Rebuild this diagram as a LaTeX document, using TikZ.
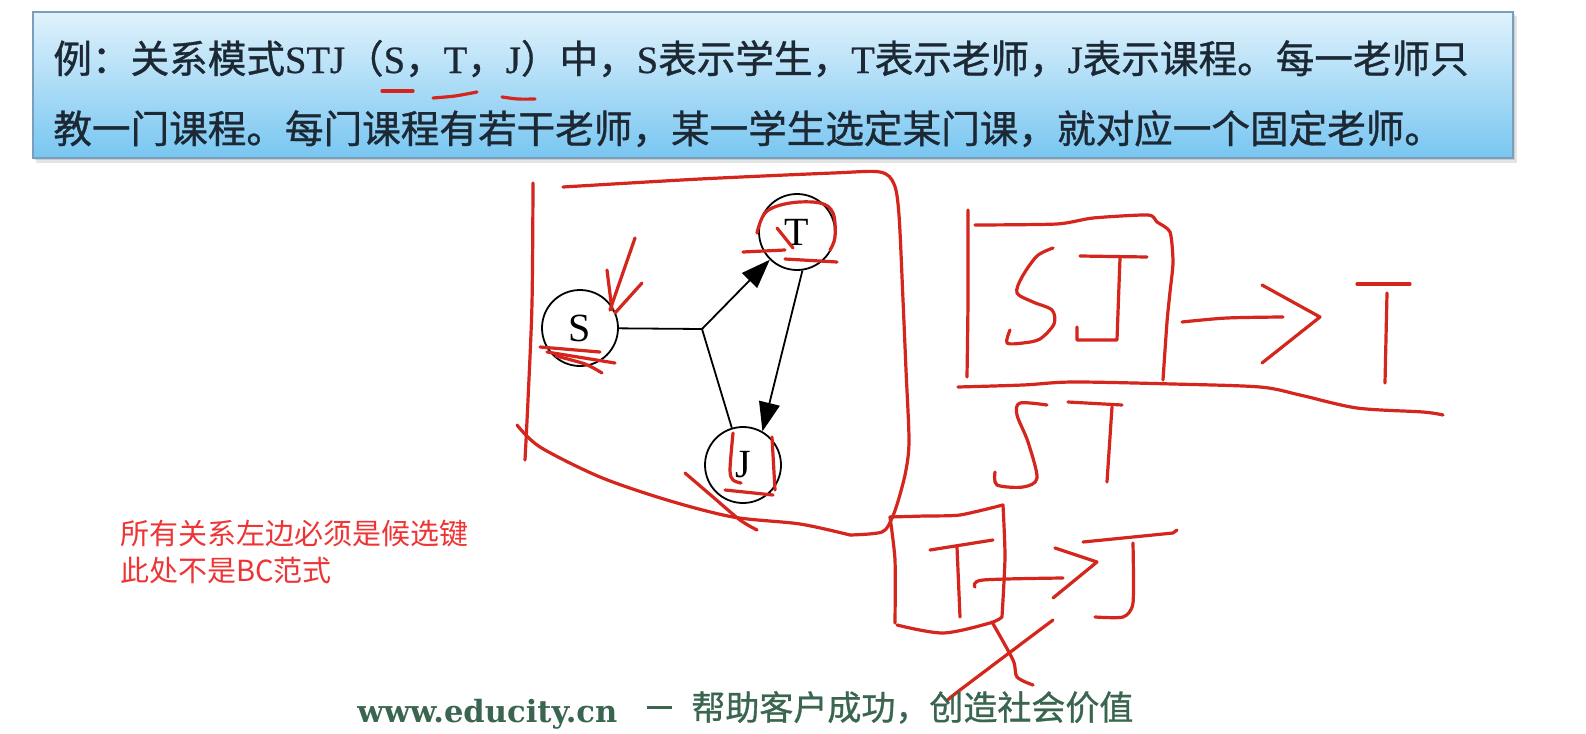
\documentclass[tikz,border=0pt]{standalone}
\usepackage{fontspec}
\setmainfont{Liberation Serif}
\newfontfamily\cjk{Noto Sans CJK SC}
\newfontfamily\cjkheavy{Noto Sans CJK SC}[FakeBold=0.9]
\newfontfamily\latheavy{Liberation Serif}[FakeBold=0.6]
\newfontfamily\urlserif{DejaVu Serif}
\usetikzlibrary{arrows.meta}

\definecolor{mkred}{RGB}{212,38,28}
\definecolor{notered}{RGB}{238,52,52}
\definecolor{boxtop}{RGB}{224,242,252}
\definecolor{boxbot}{RGB}{120,198,241}
\definecolor{boxline}{RGB}{120,160,190}
\definecolor{titlecol}{RGB}{28,40,52}
\definecolor{footgreen}{RGB}{58,102,80}

\tikzset{
  mk/.style={draw=mkred, line width=1.6pt, line cap=round, line join=round},
  vert/.style={circle, draw, line width=0.9pt, minimum size=38pt, inner sep=0pt,
               font=\fontsize{20pt}{20pt}\selectfont},
  gline/.style={line width=0.9pt},
  harrow/.style={-{Triangle[length=14.5pt,width=10.5pt]}},
  titletext/.style={anchor=base west, inner sep=0pt, text=titlecol,
                    font=\latheavy\fontsize{19.3pt}{22pt}\selectfont},
  notetext/.style={anchor=base west, inner sep=0pt, text=notered,
                   font=\cjk\fontsize{14.5pt}{17pt}\selectfont},
  foottext/.style={anchor=base west, inner sep=0pt, text=footgreen}
}

\begin{document}
\begin{tikzpicture}[x=0.5pt,y=-0.5pt]
\useasboundingbox (0,0) rectangle (1586,734);
\fill[white] (0,0) rectangle (1586,734);

% ---- blue heading panel with soft shadow
\fill[black, opacity=0.10] (36,16) rectangle (1517,163);
\fill[black, opacity=0.10] (34,14) rectangle (1515,160);
\shade[top color=boxtop, bottom color=boxbot] (33,12) rectangle (1513,158);
\draw[boxline, line width=0.6pt] (33,12) rectangle (1513,158);

\node[titletext] (line1) at (53,73)
  {{\cjkheavy 例：关系模式}STJ{\cjkheavy （}S{\cjkheavy ，}T{\cjkheavy ，}J{\cjkheavy ）中，}S{\cjkheavy 表示学生，}T{\cjkheavy 表示老师，}J{\cjkheavy 表示课程。每一老师只}};
\node[titletext] (line2) at (53,143)
  {{\cjkheavy 教一门课程。每门课程有若干老师，某一学生选定某门课，就对应一个固定老师。}};

% underlines under S, T, J in the heading
\draw[mk] (382,91) -- (413,91);
\draw[mk] plot[smooth] coordinates {(433,98) (455,96) (477,92)};
\draw[mk] plot[smooth] coordinates {(502,97) (518,99) (535,99)};

% ---- dependency graph
\node[vert] (S) at (580,328) {S};
\node[vert] (T) at (797,232) {T};
\node[vert] (J) at (743,465) {J};
\coordinate (jn) at (702,329);
\draw[gline] (S) -- (jn);
\draw[gline, harrow] (jn) -- (T);
\draw[gline] (jn) -- (J);
\draw[gline, harrow] (T.-82) -- (J.60);

% ---- hand-drawn frame around the graph
\draw[mk] plot[smooth, tension=0.5] coordinates {(533,183) (532,303) (528,400) (525,460)};
\draw[mk] plot[smooth, tension=0.5] coordinates {(563,187) (700,179) (833,173) (880,172) (894,184) (899,215) (903,300) (906,370) (909,440) (906,470) (899,498) (892,518) (882,532) (850,535)};
\draw[mk] plot[smooth, tension=0.5] coordinates {(517,425) (540,447) (600,477) (667,500) (733,517) (800,524) (850,535)};
\draw[mk] plot[smooth, tension=0.5] coordinates {(685,473) (713,497) (740,520) (757,530)};

% marks at S
\draw[mk] (635,238) -- (610,310);
\draw[mk] (607,270) -- (612,310);
\draw[mk] (642,283) -- (615,313);
\draw[mk] (540,347) -- (600,352);
\draw[mk] (547,352) -- (615,363);
\draw[mk] plot[smooth] coordinates {(556,356) (585,364) (602,373)};

% marks at T
\draw[mk] plot[smooth, tension=0.6] coordinates {(757,233) (766,212) (790,203) (820,203) (833,213) (835,237) (830,250)};
\draw[mk] (777,228) -- (793,248);
\draw[mk] (743,252) -- (785,250);
\draw[mk] (785,259) -- (837,262);

% marks at J
\draw[mk] plot[smooth] coordinates {(733,433) (730,470) (733,480) (741,483)};
\draw[mk] (772,437) -- (775,490);
\draw[mk] (725,490) -- (773,495);

% ---- SJ -> T over ST
\draw[mk] plot[smooth, tension=0.4] coordinates {(968,210) (968,300) (967,377)};
\draw[mk] plot[smooth, tension=0.4] coordinates {(975,225) (1057,224) (1093,218) (1148,215) (1157,222) (1170,232) (1173,262) (1170,292) (1167,322) (1163,380)};
\draw[mk] plot[smooth, tension=0.5] coordinates {(958,387) (1023,385) (1073,382) (1173,384) (1260,387) (1300,395) (1357,408) (1423,412) (1443,415)};
% S
\draw[mk] plot[smooth, tension=0.5] coordinates {(1053,248) (1037,256) (1022,277) (1017,293) (1033,302) (1052,310) (1054,324) (1040,339) (1023,343) (1007,343) (1010,330)};
% J
\draw[mk] (1080,256) -- (1147,257);
\draw[mk] (1120,258) -- (1117,340) -- (1077,340) -- (1077,327);
% arrow
\draw[mk] plot[smooth] coordinates {(1182,322) (1227,318) (1283,317)};
\draw[mk] (1262,285) -- (1320,317) -- (1262,363);
% T
\draw[mk] (1357,284) -- (1410,284);
\draw[mk] (1387,293) -- (1385,383);
% ST
\draw[mk] plot[smooth, tension=0.5] coordinates {(1047,405) (1020,403) (1017,415) (1028,442) (1037,478) (1023,487) (997,485) (995,472)};
\draw[mk] (1068,402) -- (1122,405);
\draw[mk] (1112,407) -- (1107,482);

% ---- T -> J, crossed out
\draw[mk] plot[smooth, tension=0.4] coordinates {(890,517) (925,516) (960,515) (1003,505)};
\draw[mk] plot[smooth, tension=0.4] coordinates {(890,517) (895,560) (895,623)};
\draw[mk] plot[smooth, tension=0.4] coordinates {(1003,505) (1005,557) (1002,617)};
\draw[mk] plot[smooth, tension=0.5] coordinates {(897,625) (943,633) (990,623) (1002,617)};
\draw[mk] (930,550) -- (993,540);
\draw[mk] (957,547) -- (960,617);
\draw[mk] plot[smooth] coordinates {(975,587) (983,580) (1063,578)};
\draw[mk] (1055,548) -- (1097,562) -- (1053,598);
\draw[mk] (1083,542) -- (1173,533) -- (1177,530);
\draw[mk] plot[smooth, tension=0.4] coordinates {(1133,543) (1133,603) (1123,617) (1095,617)};
\draw[mk] plot[smooth, tension=0.5] coordinates {(992,622) (1013,660) (1017,677) (1033,685)};
\draw[mk] plot[smooth, tension=0.5] coordinates {(1053,620) (960,690) (948,700)};

% ---- note
\node[notetext] (note1) at (120,544) {所有关系左边必须是候选键};
\node[notetext] (note2) at (120,581) {此处不是BC范式};

% ---- footer
\node[foottext, font=\urlserif\bfseries\fontsize{15.3pt}{18pt}\selectfont] (url) at (357,722) {www.educity.cn};
\node[foottext] (dash) at (647,722) {\rule[6.3pt]{12.5pt}{1.5pt}};
\node[foottext, font=\cjkheavy\fontsize{17pt}{20pt}\selectfont] (slogan) at (691,720) {帮助客户成功，创造社会价值};
\end{tikzpicture}
\end{document}
